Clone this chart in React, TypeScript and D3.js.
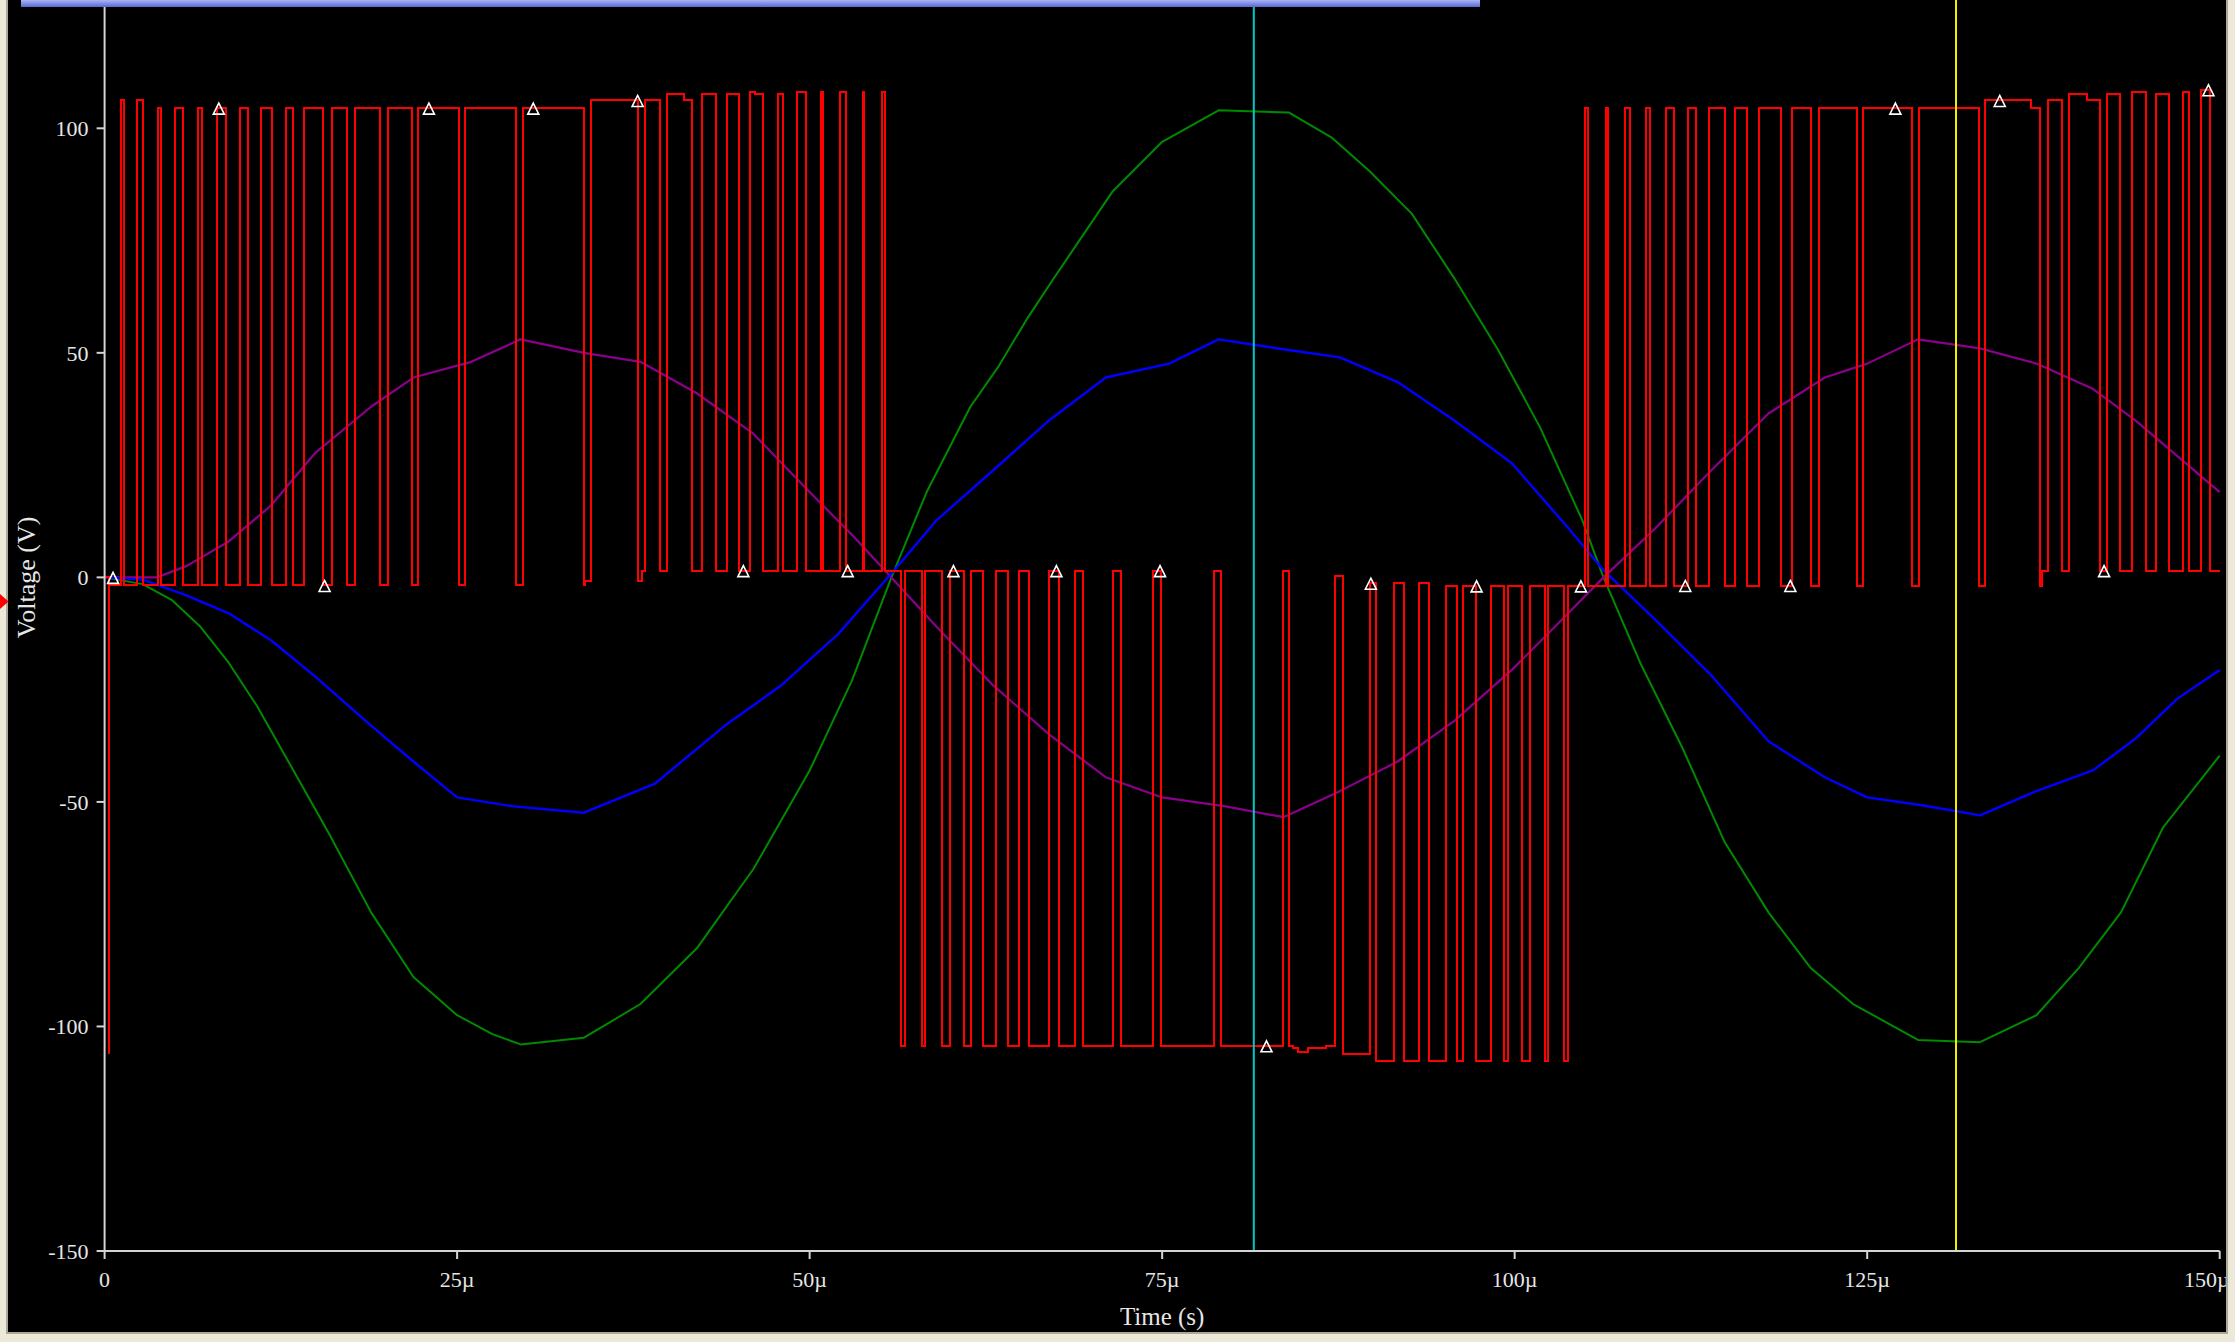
import React from 'react';
import * as d3 from 'd3';

const W = 2235;
const H = 1342;

// axes
const xTicks = [0, 25, 50, 75, 100, 125, 150];
const xTickLabels = ['0', '25µ', '50µ', '75µ', '100µ', '125µ', '150µ'];
const yTicks = [100, 50, 0, -50, -100, -150];
const yTickLabels = ['100', '50', '0', '-50', '-100', '-150'];
const xTitle = 'Time (s)';
const yTitle = 'Voltage (V)';

// cursors (µs)
const cyanCursorT = 81.5;
const yellowCursorT = 131.3;

// smooth traces [t (µs), V]
const greenPts: [number, number][] = [
  [0, 0], [2.7, -1.5], [4.75, -5], [6.8, -11], [8.8, -19], [10.8, -28.6], [12.8, -39.7], [15.9, -57],
  [18.9, -74.6], [21.9, -89], [25, -97.5], [27.5, -101.7], [29.5, -104], [34, -102.5], [38, -95],
  [42, -82.6], [46, -65], [50, -43], [53, -23], [55.8, 0], [58.3, 19], [61.4, 38], [63.4, 47],
  [65.4, 57.5], [67.4, 67], [71.5, 86], [75, 97], [79, 104], [84, 103.5], [87, 98], [89.7, 90.5], [92.7, 81],
  [95.7, 66.7], [98.8, 50.8], [101.8, 33.4], [104.8, 12.7], [106.3, 0], [108.9, -19], [111.9, -38],
  [114.9, -59], [118, -74.6], [121, -87], [124, -95], [128.6, -103], [133, -103.5], [137, -97.5],
  [140, -87], [143, -74.6], [146, -55.6], [150, -39.7],
];
const bluePts: [number, number][] = [
  [0, 0], [2.7, -0.5], [5.8, -4], [8.8, -8], [11.8, -14], [14.9, -22], [18.9, -33], [21.9, -41],
  [25, -49], [29, -51], [34, -52.4], [39, -46], [44, -33], [48, -24], [52, -12.7], [56, 1.6],
  [59, 12.7], [63, 23.8], [67, 35], [71, 44.5], [75.5, 47.6], [79, 53], [83.6, 50.8], [87.6, 49],
  [91.7, 43.5], [95.7, 35], [99.8, 25.4], [103.8, 11], [106.3, 1.6], [110, -9.5], [114, -22],
  [118, -36.5], [122, -44.5], [125, -49], [129, -50.8], [133, -53], [137, -47.6], [141, -43],
  [144, -36], [147, -27], [150, -20.6],
];
const purplePts: [number, number][] = [
  [0, 0], [3.7, 0], [5.8, 2.5], [8.8, 8], [11.8, 16], [14.9, 27.6], [18.9, 38], [21.9, 44.5],
  [26, 48], [29.5, 53], [34, 50], [38, 48], [42, 41], [46, 32], [50, 19], [53, 9.5], [55.8, 0],
  [59, -11], [63, -24], [67, -35], [71, -44.5], [75, -49], [79.5, -51], [83.6, -53.4], [87.6, -47.6],
  [91.7, -41], [95.7, -32], [99.8, -20.6], [103.8, -8], [106.3, 0], [110, 11], [114, 24],
  [118, 36.5], [122, 44.5], [125, 47.6], [128.6, 53], [133, 51], [137, 47.6], [141, 42],
  [144, 35], [147, 27], [150, 19],
];

// PWM trace: baseline steps [t, V] and pulses [start, end, V]
const redBaseline: [number, number][] = [
  [0, 0], [0.34, -1.8], [34.1, -0.8], [38.1, 1.5], [87.1, 0.2], [88.6, -1.3], [94.5, -1.9], [137.4, 1.5],
];
const redPulsesPos1: [number, number, number][] = [
  [1.15, 1.37, 106.2], [2.31, 2.71, 106.2], [3.79, 3.97, 104.5], [5.02, 5.57, 104.5], [6.65, 6.9, 104.5],
  [7.95, 8.64, 104.5], [9.58, 10.16, 104.5], [11.1, 11.89, 104.5], [12.83, 13.38, 104.5], [14.17, 15.47, 104.5],
  [16.16, 17.21, 104.5], [17.75, 19.52, 104.5], [20.1, 21.77, 104.5], [22.2, 25.13, 104.5], [25.56, 29.18, 104.5],
  [29.65, 34.0, 104.5], [34.49, 37.86, 106.2], [38.29, 39.37, 106.2], [39.92, 41.11, 107.6], [41.11, 41.66, 106.2],
  [42.38, 43.39, 107.6], [44.11, 44.98, 107.6], [45.74, 46.1, 108.1], [46.1, 46.72, 107.6], [47.73, 48.13, 107.6],
  [49.07, 49.75, 108.1], [50.8, 50.98, 108.1], [52.14, 52.57, 108.1], [53.77, 53.88, 108.1], [55.14, 55.32, 108.1],
];
const redPulsesNeg: [number, number, number][] = [
  [0.28, 0.34, -106],
  [56.51, 56.79, -104.3], [58.0, 58.2, -104.3], [59.36, 59.93, -104.3], [60.94, 61.41, -104.3], [62.33, 63.25, -104.3],
  [64.07, 64.86, -104.3], [65.56, 66.95, -104.3], [67.65, 68.79, -104.3], [69.39, 71.51, -104.3], [72.11, 74.35, -104.3],
  [74.95, 78.69, -104.3], [79.16, 83.56, -104.3], [83.97, 84.26, -104.3], [84.26, 84.64, -104.8], [84.64, 85.36, -105.7],
  [85.36, 86.63, -104.8], [86.63, 87.26, -104.3], [87.83, 89.73, -106.2], [90.17, 91.44, -107.6], [92.17, 93.18, -107.6],
  [93.91, 95.11, -107.6], [95.93, 96.37, -107.6], [97.29, 98.3, -107.6], [99.22, 99.54, -107.6], [100.55, 101.09, -107.6],
  [102.13, 102.35, -107.6], [103.49, 103.81, -107.6],
];
const redPulsesPos2: [number, number, number][] = [
  [105.0, 105.2, 104.5], [106.5, 106.6, 104.5], [107.8, 108.2, 104.5], [109.3, 109.6, 104.5], [110.7, 111.3, 104.5],
  [112.3, 112.85, 104.5], [113.8, 114.9, 104.5], [115.6, 116.5, 104.5], [117.3, 118.9, 104.5], [119.65, 121.0, 104.5],
  [121.6, 124.3, 104.5], [124.7, 128.2, 104.5], [128.7, 132.9, 104.5], [133.35, 136.6, 106.2], [136.6, 137.25, 104.5],
  [137.8, 138.85, 106.2], [139.3, 140.6, 107.6], [140.6, 141.5, 106.2], [142.0, 142.9, 107.6], [143.75, 144.8, 108.1],
  [145.5, 146.4, 107.6], [147.4, 147.8, 108.1], [148.7, 149.3, 108.6],
];
// sample markers on the PWM trace [t, V]
const redMarkers: [number, number][] = [
  [0.6, 0], [8.1, 104.5], [15.6, -1.8], [23.0, 104.5], [30.4, 104.5], [37.8, 106.2], [45.3, 1.5],
  [52.7, 1.5], [60.2, 1.5], [67.5, 1.5], [74.85, 1.5], [82.4, -104.3], [89.8, -1.3], [97.3, -1.9],
  [104.7, -1.9], [112.1, -1.8], [119.55, -1.8], [127.0, 104.5], [134.4, 106.2], [141.8, 1.5], [149.2, 108.6],
];

const font = "'Liberation Serif', 'Times New Roman', serif";

function buildRed(): [number, number][] {
  const pulses = [...redPulsesPos1, ...redPulsesNeg, ...redPulsesPos2];
  const times = new Set<number>();
  redBaseline.forEach(([t]) => times.add(t));
  pulses.forEach(([a, b]) => { times.add(a); times.add(b); });
  times.add(150);
  const sorted = Array.from(times).sort((a, b) => a - b);
  const valueAt = (t: number) => {
    for (const [a, b, v] of pulses) if (t >= a && t < b) return v;
    let v = redBaseline[0][1];
    for (const [bt, bv] of redBaseline) if (bt <= t) v = bv;
    return v;
  };
  return sorted.map((t) => [t, valueAt(t)] as [number, number]);
}

export default function App() {
  const x = d3.scaleLinear().domain([0, 150]).range([104.6, 2219.7]);
  const y = d3.scaleLinear().domain([-150, 100]).range([1251, 128.3]);
  const line = d3.line<[number, number]>().x((d) => x(d[0])).y((d) => y(d[1]));
  const stepLine = d3.line<[number, number]>().x((d) => x(d[0])).y((d) => y(d[1])).curve(d3.curveStepAfter);
  const red = buildRed();
  const axisColor = '#d4d4d4';
  const textColor = '#e6e6e6';

  return (
    <div style={{ position: 'absolute', left: 0, top: 0, width: W, height: H, overflow: 'hidden' }}>
      <svg width={W} height={H} style={{ display: 'block' }}>
        <defs>
          <linearGradient id="bar" x1="0" y1="0" x2="0" y2="1">
            <stop offset="0" stopColor="#aab4f6" />
            <stop offset="1" stopColor="#5868d0" />
          </linearGradient>
          <clipPath id="plotClip">
            <rect x={8} y={0} width={2218} height={1332} />
          </clipPath>
        </defs>
        <rect x={0} y={0} width={W} height={H} fill="#000" />

        <g clipPath="url(#plotClip)">
          {/* smooth traces */}
          <path d={line(greenPts) || ''} fill="none" stroke="#008a00" strokeWidth={2} strokeLinejoin="round" />
          <path d={line(purplePts) || ''} fill="none" stroke="#8a008a" strokeWidth={2.2} strokeLinejoin="round" />
          <path d={line(bluePts) || ''} fill="none" stroke="#0000ff" strokeWidth={2.4} strokeLinejoin="round" />
          {/* PWM */}
          <path d={stepLine(red) || ''} fill="none" stroke="#ff0000" strokeWidth={2} shapeRendering="crispEdges" />
          {/* markers */}
          {redMarkers.map(([t, v], i) => (
            <path
              key={i}
              d={`M${x(t)},${y(v) - 5} L${x(t) + 5.5},${y(v) + 6} L${x(t) - 5.5},${y(v) + 6} Z`}
              fill="none"
              stroke="#ffffff"
              strokeWidth={1.6}
            />
          ))}
          {/* cursors */}
          <line x1={x(cyanCursorT)} x2={x(cyanCursorT)} y1={0} y2={y(-150)} stroke="#00c8c8" strokeWidth={2} />
          <line x1={x(yellowCursorT)} x2={x(yellowCursorT)} y1={0} y2={y(-150)} stroke="#f0f000" strokeWidth={2} />
        </g>

        {/* axes */}
        <line x1={x(0)} x2={x(0)} y1={0} y2={y(-150)} stroke={axisColor} strokeWidth={2} />
        <line x1={x(0)} x2={x(150)} y1={y(-150)} y2={y(-150)} stroke={axisColor} strokeWidth={2} />
        {yTicks.map((v, i) => (
          <g key={'y' + i}>
            <line x1={x(0) - 8} x2={x(0)} y1={y(v)} y2={y(v)} stroke={axisColor} strokeWidth={2} />
            <text x={x(0) - 16} y={y(v)} dy="0.35em" textAnchor="end" fill={textColor} fontFamily={font} fontSize={22}>
              {yTickLabels[i]}
            </text>
          </g>
        ))}
        {xTicks.map((t, i) => (
          <g key={'x' + i}>
            <line x1={x(t)} x2={x(t)} y1={y(-150)} y2={y(-150) + 8} stroke={axisColor} strokeWidth={2} />
            <text
              x={i === xTicks.length - 1 ? x(t) + 10 : x(t)}
              y={1287}
              textAnchor={i === xTicks.length - 1 ? 'end' : 'middle'}
              fill={textColor}
              fontFamily={font}
              fontSize={22}
            >
              {xTickLabels[i]}
            </text>
          </g>
        ))}
        <text x={x(75)} y={1325} textAnchor="middle" fill={textColor} fontFamily={font} fontSize={25}>
          {xTitle}
        </text>
        <text
          transform={`translate(35, ${y(0)}) rotate(-90)`}
          textAnchor="middle"
          fill={textColor}
          fontFamily={font}
          fontSize={26}
        >
          {yTitle}
        </text>

        {/* window frame */}
        <rect x={0} y={0} width={6} height={H} fill="#ece9d8" />
        <rect x={6} y={0} width={2} height={H} fill="#aca899" />
        <rect x={0} y={1334} width={W} height={8} fill="#ece9d8" />
        <rect x={6} y={1332} width={2222} height={2} fill="#aca899" />
        <rect x={2228} y={0} width={7} height={H} fill="#ece9d8" />
        <rect x={2226} y={0} width={2} height={1334} fill="#aca899" />
        <rect x={21} y={0} width={1459} height={7} fill="url(#bar)" />
        <path d="M0,594 L8.5,601.5 L0,609 Z" fill="#ff0000" />
      </svg>
    </div>
  );
}
